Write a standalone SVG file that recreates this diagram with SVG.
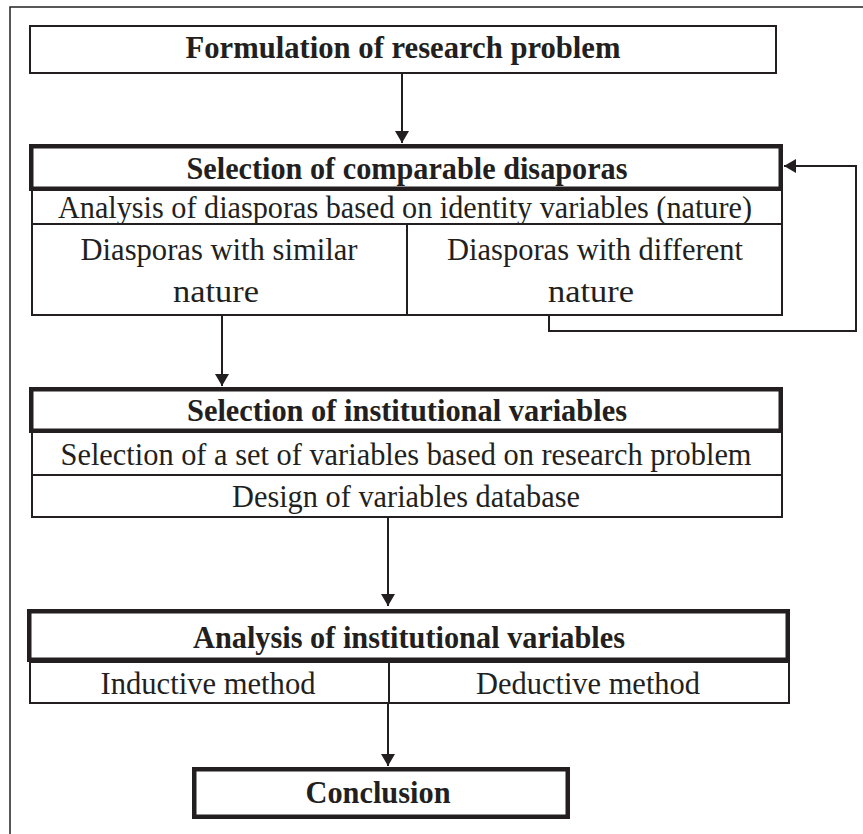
<svg xmlns="http://www.w3.org/2000/svg" width="863" height="834" viewBox="0 0 863 834">
<style>
  .frame { fill: none; stroke: #222; stroke-width: 1.5; }
  .thin { fill: #fff; stroke: #231f20; stroke-width: 2; }
  .thick { fill: #fff; stroke: #231f20; stroke-width: 4.5; }
  .line { fill: none; stroke: #231f20; stroke-width: 2; }
  .t { font-family: "Liberation Serif", "Times New Roman", Times, serif; font-size: 32px; fill: #231f20; text-anchor: middle; }
  .b { font-weight: bold; }
</style>
<defs>
  <marker id="arr" viewBox="0 0 12 14" refX="12" refY="7" markerWidth="12" markerHeight="14" markerUnits="userSpaceOnUse" orient="auto">
    <path d="M0,0 L12,7 L0,14 Z" fill="#231f20"/>
  </marker>
</defs>
<rect width="863" height="834" fill="#fff"/>
<path class="frame" d="M10,834 L10,7 L863,7"/>

<g id="connectors">
  <line class="line" x1="402" y1="74" x2="402" y2="143" marker-end="url(#arr)"/>
  <line class="line" x1="222" y1="315" x2="222" y2="386" marker-end="url(#arr)"/>
  <line class="line" x1="388" y1="517" x2="388" y2="606" marker-end="url(#arr)"/>
  <line class="line" x1="388" y1="662" x2="388" y2="766" marker-end="url(#arr)"/>
  <path class="line" d="M549,315 L549,331 L856,331 L856,166 L784,166" marker-end="url(#arr)"/>
</g>

<g id="formulation">
  <rect class="thin" x="30" y="26" width="746" height="47"/>
  <text class="t b" x="403" y="58" textLength="435" lengthAdjust="spacingAndGlyphs">Formulation of research problem</text>
</g>

<g id="selection-diasporas">
  <rect class="thin" x="32" y="190" width="750" height="34"/>
  <rect class="thin" x="32" y="224" width="375" height="91"/>
  <rect class="thin" x="407" y="224" width="375" height="91"/>
  <rect class="thick" x="31.25" y="146.25" width="749.5" height="42.5"/>
  <text class="t b" x="407" y="179" textLength="441" lengthAdjust="spacingAndGlyphs">Selection of comparable disaporas</text>
  <text class="t" x="405" y="218" textLength="694" lengthAdjust="spacingAndGlyphs">Analysis of diasporas based on identity variables (nature)</text>
  <text class="t" x="219" y="260" textLength="277" lengthAdjust="spacingAndGlyphs">Diasporas with similar</text>
  <text class="t" x="216" y="302" textLength="86" lengthAdjust="spacingAndGlyphs">nature</text>
  <text class="t" x="591" y="302" textLength="86" lengthAdjust="spacingAndGlyphs">nature</text>
  <text class="t" x="595" y="260" textLength="296" lengthAdjust="spacingAndGlyphs">Diasporas with different</text>
</g>

<g id="selection-institutional">
  <rect class="thin" x="32" y="432" width="750" height="43"/>
  <rect class="thin" x="32" y="475" width="750" height="42"/>
  <rect class="thick" x="31.25" y="389.25" width="749.5" height="41.5"/>
  <text class="t b" x="407" y="421" textLength="440" lengthAdjust="spacingAndGlyphs">Selection of institutional variables</text>
  <text class="t" x="406" y="465" textLength="691" lengthAdjust="spacingAndGlyphs">Selection of a set of variables based on research problem</text>
  <text class="t" x="406" y="507" textLength="348" lengthAdjust="spacingAndGlyphs">Design of variables database</text>
</g>

<g id="analysis">
  <rect class="thin" x="30" y="662" width="359" height="41"/>
  <rect class="thin" x="389" y="662" width="400" height="41"/>
  <rect class="thick" x="29.25" y="611.25" width="758.5" height="48.5"/>
  <text class="t b" x="409" y="648" textLength="432" lengthAdjust="spacingAndGlyphs">Analysis of institutional variables</text>
  <text class="t" x="208" y="694" textLength="215" lengthAdjust="spacingAndGlyphs">Inductive method</text>
  <text class="t" x="588" y="694" textLength="224" lengthAdjust="spacingAndGlyphs">Deductive method</text>
</g>

<g id="conclusion">
  <rect class="thick" x="194.25" y="769.25" width="373.5" height="47.5"/>
  <text class="t b" x="378" y="803" textLength="145" lengthAdjust="spacingAndGlyphs">Conclusion</text>
</g>
</svg>
